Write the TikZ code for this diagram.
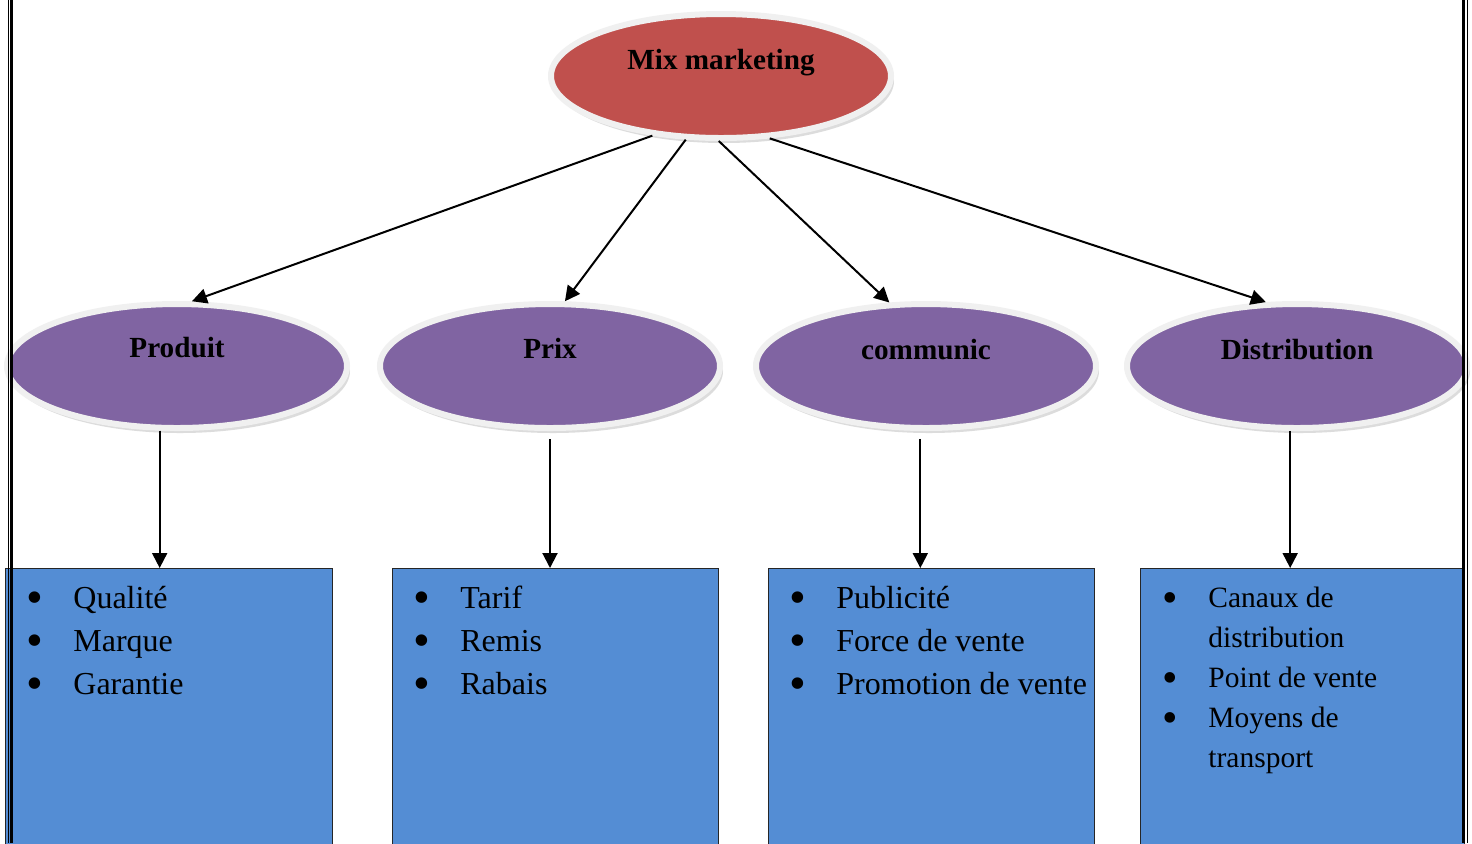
\documentclass[tikz,border=0pt]{standalone}
\usepackage{fontspec}
\setmainfont{Liberation Serif}
\usetikzlibrary{shapes.geometric,shadows,arrows.meta}
\definecolor{mixred}{HTML}{C0504D}
\definecolor{purp}{HTML}{8064A2}
\definecolor{boxblue}{HTML}{548DD4}
\newcommand\bigbul{\smash{\raisebox{-0.15em}{\scalebox{1.5}{•}}}}
\newcommand\bul{\makebox[23.5pt][l]{\bigbul}}
\newcommand\bulsm{\makebox[23pt][l]{\bigbul}}
\newcommand\indsm{\hspace*{23pt}}
\begin{document}
\begin{tikzpicture}[x=0.5pt,y=-0.5pt,
  ell/.style={ellipse, draw=black!6, line width=3pt, minimum width=170pt, minimum height=62pt,
    drop shadow={shadow xshift=1.5pt, shadow yshift=-2.5pt, fill=black!30, opacity=0.45}},
  ttl/.style={font=\fontsize{14.6pt}{17pt}\selectfont\bfseries, inner sep=0pt},
  bluebox/.style={rectangle, draw=black!85, line width=0.7pt, fill=boxblue, anchor=north west, minimum height=141pt},
  listtxt/.style={anchor=north west, inner sep=0pt, align=left, font=\fontsize{16pt}{21.5pt}\selectfont},
  listsm/.style={anchor=north west, inner sep=0pt, align=left, font=\fontsize{14.75pt}{20pt}\selectfont},
  arr/.style={line width=1pt, -{Triangle[length=7.5pt,width=7.5pt]}}]
\useasboundingbox (0,0) rectangle (1472,843);
\fill[white] (0,0) rectangle (1472,843);

% ellipses
\node[ell, fill=mixred] (mix) at (721,76) {};
\node[ell, fill=purp] (pro) at (177,366) {};
\node[ell, fill=purp] (prix) at (550,366) {};
\node[ell, fill=purp] (com) at (926,366) {};
\node[ell, fill=purp] (dis) at (1297,366) {};

\node[ttl] (tmix) at ([yshift=6.5pt]mix.center) {Mix marketing};
\node[ttl] (tpro) at ([yshift=9pt]pro.center) {Produit};
\node[ttl] (tprix) at ([yshift=9pt]prix.center) {Prix};
\node[ttl] (tcom) at ([yshift=8pt]com.center) {communic};
\node[ttl] (tdis) at ([yshift=8pt]dis.center) {Distribution};

% boxes
\node[bluebox, minimum width=163.5pt] (b1) at (5,568) {};
\node[bluebox, minimum width=163pt] (b2) at (392,568) {};
\node[bluebox, minimum width=163pt] (b3) at (768,568) {};
\node[bluebox, minimum width=162pt] (b4) at (1140,568) {};

\node[listtxt] (l1) at ([xshift=10.5pt,yshift=-9pt]b1.north west)
  {\bul Qualité\\ \bul Marque\\ \bul Garantie};
\node[listtxt] (l2) at ([xshift=10.5pt,yshift=-9pt]b2.north west)
  {\bul Tarif\\ \bul Remis\\ \bul Rabais};
\node[listtxt] (l3) at ([xshift=10.5pt,yshift=-9pt]b3.north west)
  {\bul Publicité\\ \bul Force de vente\\ \bul Promotion de vente};
\node[listsm] (l4) at ([xshift=11pt,yshift=-9.5pt]b4.north west)
  {\bulsm Canaux de\\ \indsm distribution\\ \bulsm Point de vente\\ \bulsm Moyens de\\ \indsm transport};

% arrows
\draw[arr] (mix.221.5) -- (pro.77);
\draw[arr] (mix.241) -- (prix.77);
\draw[arr] (mix.268) -- (com.120);
\draw[arr] (mix.308) -- (dis.116);

\draw[arr] (pro.255) -- (pro.255 |- b1.north);
\draw[arr, shorten <=4pt] (prix.south) -- (prix.south |- b2.north);
\draw[arr, shorten <=4pt] (com.265) -- (com.265 |- b3.north);
\draw[arr] (dis.264) -- (dis.264 |- b4.north);

% page border
\draw[line width=0.5pt] (8,0) -- (8,843);
\draw[line width=1.5pt] (11,0) -- (11,843);
\draw[line width=1.5pt] (1463.5,0) -- (1463.5,843);
\draw[line width=0.5pt] (1467,0) -- (1467,843);
\end{tikzpicture}
\end{document}
